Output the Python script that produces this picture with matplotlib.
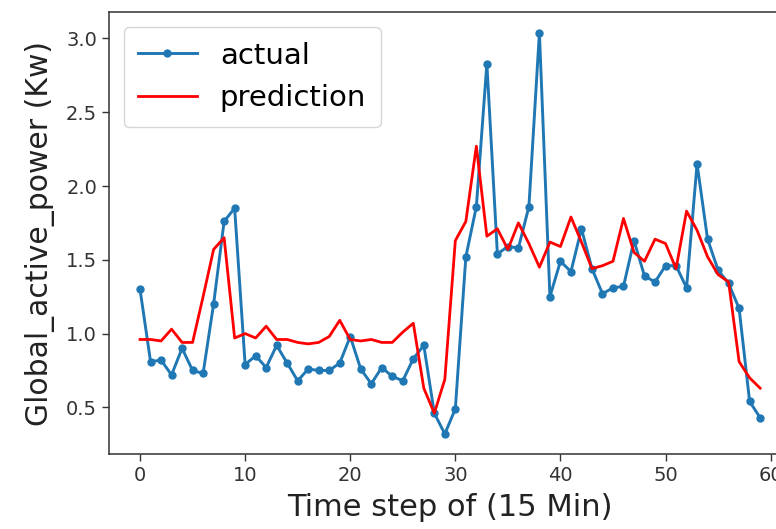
import numpy as np
import matplotlib
matplotlib.use('Agg')
import matplotlib.pyplot as plt

# values
actual = [1.30, 0.81, 0.82, 0.72, 0.90, 0.75, 0.73, 1.20, 1.76, 1.85,
          0.79, 0.85, 0.77, 0.92, 0.80, 0.68, 0.76, 0.75, 0.75, 0.80,
          0.98, 0.76, 0.66, 0.77, 0.71, 0.68, 0.83, 0.92, 0.46, 0.32,
          0.49, 1.52, 1.86, 2.83, 1.54, 1.59, 1.58, 1.86, 3.04, 1.25,
          1.49, 1.42, 1.71, 1.44, 1.27, 1.31, 1.32, 1.63, 1.39, 1.35,
          1.46, 1.46, 1.31, 2.15, 1.64, 1.43, 1.34, 1.17, 0.54, 0.43]
prediction = [0.96, 0.96, 0.95, 1.03, 0.94, 0.94, 1.25, 1.57, 1.65, 0.97,
              1.00, 0.97, 1.05, 0.96, 0.96, 0.94, 0.93, 0.94, 0.98, 1.09,
              0.96, 0.95, 0.96, 0.94, 0.94, 1.01, 1.07, 0.63, 0.46, 0.69,
              1.63, 1.76, 2.27, 1.66, 1.71, 1.57, 1.75, 1.61, 1.45, 1.62,
              1.59, 1.79, 1.62, 1.44, 1.46, 1.49, 1.78, 1.55, 1.49, 1.64,
              1.61, 1.44, 1.83, 1.70, 1.52, 1.40, 1.35, 0.81, 0.70, 0.63]
steps = np.arange(len(actual))

fig = plt.figure(figsize=(7.76, 5.29), dpi=100)
# axes runs past the right edge, like the cropped original
ax = fig.add_axes([0.1405, 0.1418, 0.879, 0.8346])

ax.plot(steps, actual, marker='.', markersize=10, lw=2.1, color='#1f77b4', label='actual')
ax.plot(steps, prediction, lw=2.0, color='red', label='prediction')

ax.set_xticks([0, 10, 20, 30, 40, 50, 60])
ax.set_yticks([0.5, 1.0, 1.5, 2.0, 2.5, 3.0])
ax.tick_params(labelsize=14, colors='#333333', labelcolor='#333333', width=1.0, length=5)
for sp in ax.spines.values():
    sp.set_linewidth(1.1)
    sp.set_color('#333333')

ax.set_xlabel('Time step of (15 Min)', fontsize=22, color='#222222', labelpad=6)
ax.set_ylabel('Global_active_power (Kw)', fontsize=21.5, color='#222222', labelpad=8)
ax.legend(loc='upper left', fontsize=21, handlelength=2.0, borderpad=0.5)

fig.savefig('out.png', dpi=100)
